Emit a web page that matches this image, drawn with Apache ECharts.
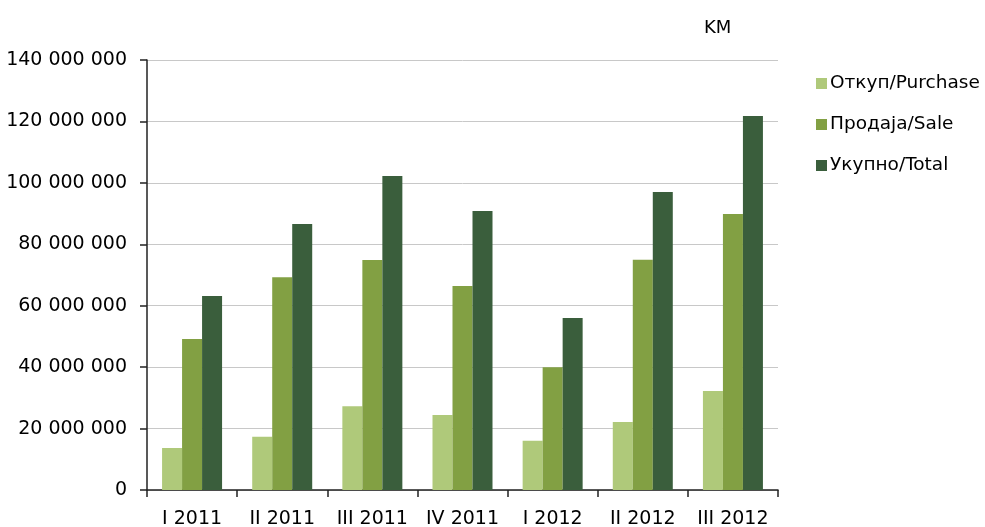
<!DOCTYPE html>
<html>
<head>
<meta charset="utf-8">
<script src="https://cdn.jsdelivr.net/npm/echarts@6/dist/echarts.min.js"></script>
<style>
  html, body { margin: 0; padding: 0; background: #fff; }
  #chart { width: 985px; height: 527px; }
</style>
</head>
<body>
<div id="chart"></div>
<script>
const categories = ['I 2011', 'II 2011', 'III 2011', 'IV 2011', 'I 2012', 'II 2012', 'III 2012'];
const purchase = [13700000, 17300000, 27300000, 24400000, 16000000, 22100000, 32200000];
const sale = [49200000, 69300000, 74900000, 66400000, 40000000, 75000000, 89900000];
const total = [63200000, 86600000, 102200000, 90800000, 56000000, 97000000, 121800000];
const yTicks = [0, 20000000, 40000000, 60000000, 80000000, 100000000, 120000000, 140000000];

const font = 'DejaVu Sans';
const chart = echarts.init(document.getElementById('chart'));

function fmt(v) {
  return String(v).replace(/\B(?=(\d{3})+(?!\d))/g, ' ');
}

chart.setOption({
  animation: false,
  textStyle: { fontFamily: font },
  grid: { left: 147, right: 207, top: 60, bottom: 37, outerBoundsMode: 'none' },
  title: {
    text: 'KM', left: 699, top: 14,
    textStyle: { fontFamily: font, fontSize: 18, fontWeight: 'normal', color: '#000' }
  },
  legend: {
    orient: 'vertical', left: 811, top: 69, itemGap: 22,
    itemWidth: 11, itemHeight: 11, icon: 'rect',
    textStyle: { fontFamily: font, fontSize: 18.5, color: '#000', padding: [0, 0, 0, -2] },
    data: ['Откуп/Purchase', 'Продаја/Sale', 'Укупно/Total']
  },
  xAxis: {
    type: 'category', data: categories,
    axisLine: { lineStyle: { color: '#222', width: 1.5 } },
    axisTick: { show: true, length: 7, lineStyle: { color: '#222', width: 1.5 } },
    axisLabel: { color: '#000', fontSize: 19, margin: 20, interval: 0 }
  },
  yAxis: {
    type: 'value', min: yTicks[0], max: yTicks[yTicks.length - 1], interval: 20000000,
    axisLine: { show: true, lineStyle: { color: '#222', width: 1.5 } },
    axisTick: { show: true, length: 7, lineStyle: { color: '#222', width: 1.5 } },
    axisLabel: { color: '#000', fontSize: 19, margin: 20, formatter: fmt },
    splitLine: { lineStyle: { color: '#c8c8c8', width: 1 } }
  },
  series: [
    { name: 'Откуп/Purchase', type: 'bar', data: purchase, barWidth: 20, barGap: '0%', itemStyle: { color: '#afc97a' } },
    { name: 'Продаја/Sale', type: 'bar', data: sale, barWidth: 20, barGap: '0%', itemStyle: { color: '#82a043' } },
    { name: 'Укупно/Total', type: 'bar', data: total, barWidth: 20, barGap: '0%', itemStyle: { color: '#3a5e3c' } }
  ]
});
</script>
</body>
</html>
